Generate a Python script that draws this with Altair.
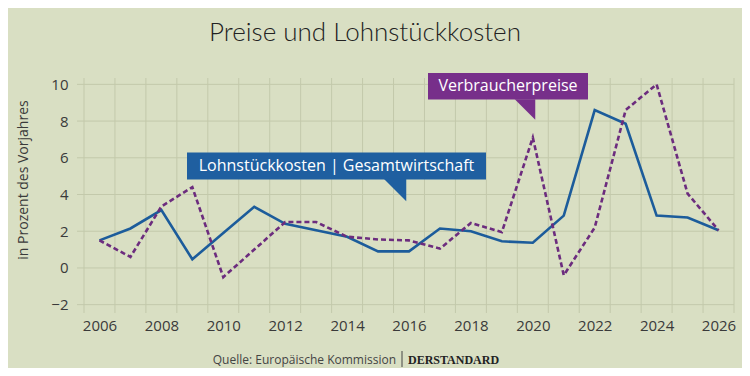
import altair as alt
import pandas as pd

# ---- data ----
years = list(range(2006, 2027))
lohnstueckkosten = [1.5, 2.15, 3.15, 0.47, 1.9, 3.33, 2.4, 2.05, 1.7, 0.9, 0.9,
                    2.15, 2.0, 1.45, 1.37, 2.85, 8.6, 7.85, 2.85, 2.75, 2.05]
verbraucherpreise = [1.5, 0.6, 3.35, 4.4, -0.5, 1.0, 2.5, 2.5, 1.7, 1.55, 1.5,
                     1.05, 2.45, 1.95, 7.1, -0.4, 2.2, 8.6, 10.0, 4.05, 2.05]
x_tick_labels = [2006, 2008, 2010, 2012, 2014, 2016, 2018, 2020, 2022, 2024, 2026]
y_ticks = [-2, 0, 2, 4, 6, 8, 10]
v_grid = [y - 0.5 for y in range(2006, 2028)]

title_text = "Preise und Lohnstückkosten"
y_title = "in Prozent des Vorjahres"
label_lohn = "Lohnstückkosten | Gesamtwirtschaft"
label_preise = "Verbraucherpreise"
source_text = "Quelle: Europäische Kommission"
brand_text = "DERSTANDARD"

BG = "#d9dfc3"
GRID = "#c3c9ab"
BLUE = "#1c5c9b"
BLUE_BOX = "#1f5fa0"
PURPLE = "#6c2c7e"
PURPLE_BOX = "#772f8a"
TXT = "#3a3a3a"
FONT = "Open Sans"

W, H = 650, 235

df = pd.DataFrame({"Jahr": years, "lohn": lohnstueckkosten, "preise": verbraucherpreise})

xscale = alt.Scale(domain=[2005.5, 2026.5], nice=False, zero=False)
yscale = alt.Scale(domain=[-2.4, 10.4], nice=False, zero=False)
xaxis = alt.Axis(values=x_tick_labels, format="d", grid=False, ticks=False, domain=False,
                 labelOverlap=False, labelFontSize=15, labelColor=TXT, labelFont=FONT,
                 labelPadding=6, title=None)
yaxis = alt.Axis(values=y_ticks, grid=False, ticks=False, domain=False,
                 labelOverlap=False, labelFontSize=15, labelColor=TXT, labelFont=FONT,
                 labelPadding=16, title=None)

one = pd.DataFrame({"a": [0]})

vgrid = alt.Chart(pd.DataFrame({"g": v_grid})).mark_rule(color=GRID, strokeWidth=1).encode(
    x=alt.X("g:Q", scale=xscale, axis=xaxis),
    y=alt.value(1), y2=alt.value(H + 1),
)

hgrid = alt.Chart(pd.DataFrame({"g": y_ticks})).mark_rule(color=GRID, strokeWidth=1).encode(
    y=alt.Y("g:Q", scale=yscale, axis=yaxis),
    x=alt.value(-7), x2=alt.value(W),
)

line_lohn = alt.Chart(df).mark_line(color=BLUE, strokeWidth=2.6).encode(
    x=alt.X("Jahr:Q", scale=xscale, axis=xaxis), y=alt.Y("lohn:Q", scale=yscale, axis=yaxis)
)
line_preise = alt.Chart(df).mark_line(color=PURPLE, strokeWidth=2.6, strokeDash=[5, 3]).encode(
    x=alt.X("Jahr:Q", scale=xscale, axis=xaxis), y=alt.Y("preise:Q", scale=yscale, axis=yaxis)
)

# annotation boxes
box_lohn = alt.Chart(one).mark_rect(color=BLUE_BOX).encode(
    x=alt.value(103), x2=alt.value(402), y=alt.value(75.5), y2=alt.value(102.5))
ptr_lohn = alt.Chart(one).mark_point(filled=True, color=BLUE_BOX, opacity=1, strokeWidth=0,
                                     shape="M -1 -1 L 1 -1 L 1 1 Z", size=506).encode(
    x=alt.value(311), y=alt.value(113))
txt_lohn = alt.Chart(one).mark_text(text=label_lohn, color="white", fontSize=16, font=FONT,
                                    align="center", baseline="middle").encode(
    x=alt.value(252.5), y=alt.value(89))

box_preise = alt.Chart(one).mark_rect(color=PURPLE_BOX).encode(
    x=alt.value(344), x2=alt.value(504), y=alt.value(-4), y2=alt.value(22.5))
ptr_preise = alt.Chart(one).mark_point(filled=True, color=PURPLE_BOX, opacity=1, strokeWidth=0,
                                       shape="M -1 -1 L 1 -1 L 1 1 Z", size=420).encode(
    x=alt.value(441), y=alt.value(32.5))
txt_preise = alt.Chart(one).mark_text(text=label_preise, color="white", fontSize=16, font=FONT,
                                      align="center", baseline="middle").encode(
    x=alt.value(424), y=alt.value(9))

title = alt.Chart(one).mark_text(text=title_text, color="#222222", fontSize=26, font="Lato",
                                 fontWeight=300, align="center", baseline="alphabetic").encode(
    x=alt.value(281), y=alt.value(-36))

ytitle = alt.Chart(one).mark_text(text=y_title, color=TXT, fontSize=14, font=FONT, angle=270,
                                  align="center", baseline="middle").encode(
    x=alt.value(-60), y=alt.value(103))

source = alt.Chart(one).mark_text(text=source_text, color="#444444", fontSize=12, font=FONT,
                                  align="right", baseline="alphabetic").encode(
    x=alt.value(312), y=alt.value(287))
sep = alt.Chart(one).mark_rule(color="#444444", strokeWidth=1).encode(
    x=alt.value(318), y=alt.value(274), y2=alt.value(290))
brand = alt.Chart(one).mark_text(text=brand_text, color="#222222", fontSize=12, font="Liberation Serif",
                                 fontWeight="bold", align="left", baseline="alphabetic").encode(
    x=alt.value(324), y=alt.value(287))

chart = alt.layer(
    vgrid, hgrid, line_lohn, line_preise,
    box_lohn, ptr_lohn, txt_lohn, box_preise, ptr_preise, txt_preise,
    title, ytitle, source, sep, brand,
).properties(
    width=W, height=H,
    autosize=alt.AutoSizeParams(type="none"),
    padding={"left": 76, "top": 69, "right": 8, "bottom": 56},
    background=BG,
).configure_view(stroke=None).configure_axis(labelOverlap=False)

chart.save("out.html", embed_options={"renderer": "svg", "actions": False})
